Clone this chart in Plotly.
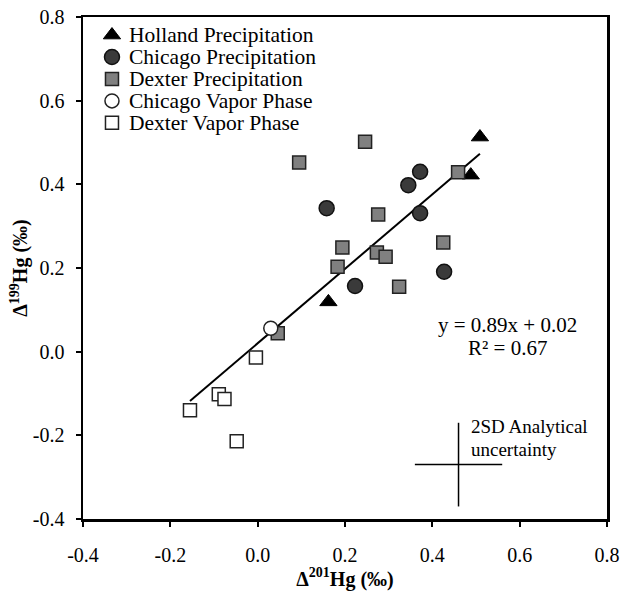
import plotly.graph_objects as go

# ---- data ----
holland_x = [0.509, 0.488, 0.162]
holland_y = [0.513, 0.422, 0.119]

chicago_x = [0.372, 0.345, 0.158, 0.372, 0.223, 0.427]
chicago_y = [0.430, 0.398, 0.343, 0.331, 0.157, 0.191]

dexter_x = [0.246, 0.095, 0.276, 0.194, 0.183, 0.273, 0.293, 0.425, 0.324, 0.459, 0.046]
dexter_y = [0.502, 0.452, 0.328, 0.249, 0.203, 0.237, 0.227, 0.261, 0.155, 0.429, 0.044]

chicago_vap_x = [0.030]
chicago_vap_y = [0.056]

dexter_vap_x = [-0.004, -0.089, -0.076, -0.155, -0.048]
dexter_vap_y = [-0.014, -0.102, -0.113, -0.140, -0.214]

fit_slope = 0.89
fit_intercept = 0.02
fit_r2 = 0.67

uncert_x = [0.46]
uncert_y = [-0.27]
uncert_2sd = [0.10]

series_names = ["Holland Precipitation", "Chicago Precipitation", "Dexter Precipitation",
                "Chicago Vapor Phase", "Dexter Vapor Phase"]

tick_vals = [-0.4, -0.2, 0.0, 0.2, 0.4, 0.6, 0.8]
tick_text = ["-0.4", "-0.2", "0.0", "0.2", "0.4", "0.6", "0.8"]

FONT = "Liberation Serif, Times New Roman, serif"

# marker styles per series
styles = [
    dict(symbol="triangle-up", size=15, color="black", line=dict(color="black", width=1)),
    dict(symbol="circle", size=15, color="#3a3a3a", line=dict(color="#111111", width=1.5)),
    dict(symbol="square", size=13, color="#808080", line=dict(color="#222222", width=1.5)),
    dict(symbol="circle", size=14, color="white", line=dict(color="#222222", width=1.5)),
    dict(symbol="square", size=13, color="white", line=dict(color="#222222", width=1.5)),
]

all_x = holland_x + chicago_x + dexter_x + chicago_vap_x + dexter_vap_x
fx = [min(all_x), max(all_x)]
fy = [fit_slope * v + fit_intercept for v in fx]

fig = go.Figure()

fig.add_trace(go.Scatter(x=fx, y=fy, mode="lines", line=dict(color="black", width=2),
                         showlegend=False, hoverinfo="skip"))

series = [(holland_x, holland_y), (chicago_x, chicago_y), (dexter_x, dexter_y),
          (chicago_vap_x, chicago_vap_y), (dexter_vap_x, dexter_vap_y)]
for (sx, sy), name, st in zip(series, series_names, styles):
    fig.add_trace(go.Scatter(x=sx, y=sy, mode="markers", name=name, marker=st, showlegend=False))

fig.add_trace(go.Scatter(x=uncert_x, y=uncert_y, mode="markers", showlegend=False,
                         marker=dict(size=0.1, color="rgba(0,0,0,0)"),
                         error_x=dict(type="data", array=uncert_2sd, width=0, thickness=1.5, color="black"),
                         error_y=dict(type="data", array=uncert_2sd, width=0, thickness=1.5, color="black"),
                         hoverinfo="skip"))

# ---- legend (compact, drawn on an overlay axis in plot-fraction units) ----
leg_key_x = 0.0553
leg_text_x = 0.084
leg_top = 0.964
leg_step = 0.0437
leg_rows = [leg_top - i * leg_step for i in range(len(series_names))]
for row, name, st in zip(leg_rows, series_names, styles):
    fig.add_trace(go.Scatter(x=[leg_key_x], y=[row], mode="markers", marker=st,
                             xaxis="x2", yaxis="y2", showlegend=False, hoverinfo="skip"))
    fig.add_annotation(x=leg_text_x, y=row, xref="paper", yref="paper", text=name,
                       xanchor="left", yanchor="middle", showarrow=False,
                       font=dict(family=FONT, size=21.5, color="black"))

fig.add_annotation(x=0.573, y=0.064, text=f"y = {fit_slope:.2f}x + {fit_intercept:.2f}",
                   showarrow=False, font=dict(family=FONT, size=21, color="black"))
fig.add_annotation(x=0.573, y=0.009, text=f"R² = {fit_r2:.2f}",
                   showarrow=False, font=dict(family=FONT, size=21, color="black"))
fig.add_annotation(x=0.484, y=-0.178, text="2SD Analytical", xanchor="left",
                   showarrow=False, font=dict(family=FONT, size=19, color="black"))
fig.add_annotation(x=0.484, y=-0.235, text="uncertainty", xanchor="left",
                   showarrow=False, font=dict(family=FONT, size=19, color="black"))

fig.update_layout(
    template="none",
    width=623, height=592,
    margin=dict(l=83, r=16, t=17, b=73),
    paper_bgcolor="white", plot_bgcolor="white",
    font=dict(family=FONT, size=20, color="black"),
    showlegend=False,
    xaxis=dict(range=[-0.4, 0.8], tickvals=tick_vals, ticktext=tick_text,
               showgrid=False, zeroline=False, showline=True, mirror=True,
               linecolor="black", linewidth=2.5,
               ticks="outside", ticklen=5, tickwidth=2, tickcolor="black",
               ticklabelstandoff=11, ticklabeloverflow="allow",
               tickfont=dict(family=FONT, size=20, color="black"),
               title=dict(text="<b>Δ<sup>201</sup>Hg (‰)</b>",
                          font=dict(family=FONT, size=20, color="black"), standoff=0)),
    yaxis=dict(range=[-0.4, 0.8], tickvals=tick_vals, ticktext=tick_text,
               showgrid=False, zeroline=False, showline=True, mirror=True,
               linecolor="black", linewidth=2.5,
               ticks="outside", ticklen=5, tickwidth=2, tickcolor="black",
               ticklabelstandoff=7, ticklabeloverflow="allow",
               tickfont=dict(family=FONT, size=20, color="black"),
               title=dict(text="<b>Δ<sup>199</sup>Hg (‰)</b>",
                          font=dict(family=FONT, size=20, color="black"), standoff=0)),
    xaxis2=dict(overlaying="x", range=[0, 1], visible=False, fixedrange=True),
    yaxis2=dict(overlaying="y", range=[0, 1], visible=False, fixedrange=True),
)

fig.write_html("out.html",
               config={"displayModeBar": False, "staticPlot": True},
               post_script="document.body.style.margin='0px';document.body.style.overflow='hidden';")
